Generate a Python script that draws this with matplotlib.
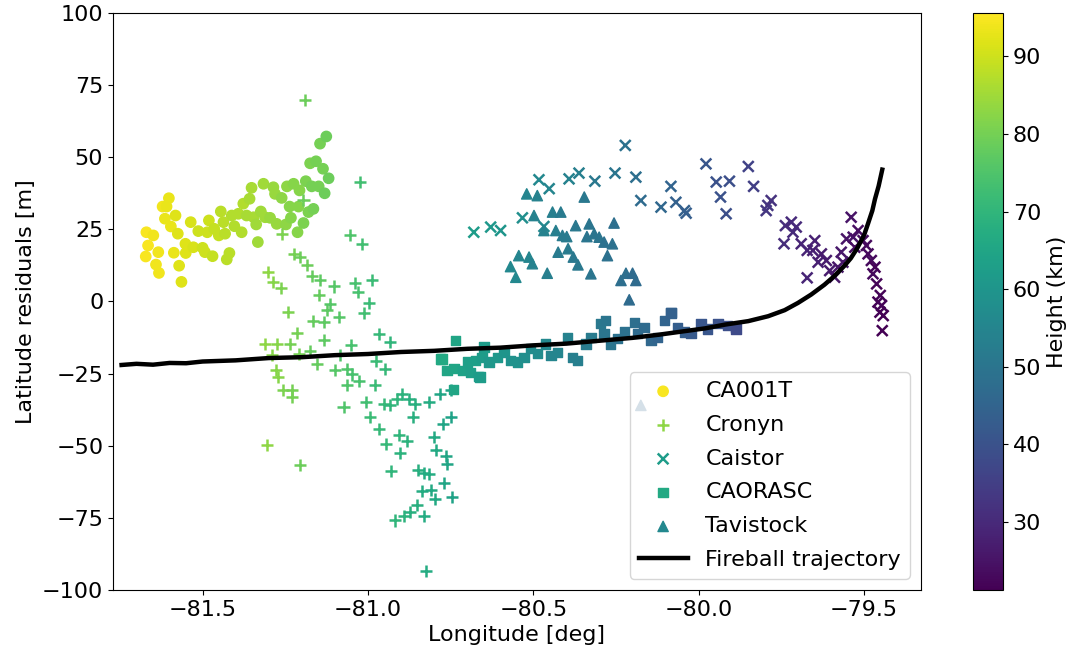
import numpy as np
import matplotlib.pyplot as plt

# CA001T (circles)
ca001t_lon = [-81.670, -81.649, -81.665, -81.672, -81.641, -81.632, -81.634, -81.621, -81.609, -81.602,
              -81.614, -81.596, -81.582, -81.575, -81.587, -81.571, -81.564, -81.552, -81.536, -81.551,
              -81.528, -81.513, -81.500, -81.493, -81.481, -81.486, -81.470, -81.465, -81.451, -81.445,
              -81.437, -81.432, -81.427, -81.419, -81.412, -81.404, -81.392, -81.382, -81.377, -81.358,
              -81.352, -81.367, -81.346, -81.338, -81.333, -81.324, -81.316, -81.311, -81.296, -81.286,
              -81.281, -81.276, -81.261, -81.248, -81.245, -81.237, -81.233, -81.225, -81.213, -81.210,
              -81.207, -81.195, -81.188, -81.180, -81.175, -81.157, -81.170, -81.165, -81.149, -81.136,
              -81.145, -81.126, -81.119, -81.131]
ca001t_lat = [24.0, 22.9, 19.4, 15.6, 12.8, 9.9, 17.1, 32.9, 32.9, 35.8,
              28.7, 26.0, 29.8, 23.5, 16.9, 12.4, 6.8, 20.0, 27.5, 16.8,
              18.8, 24.4, 18.6, 17.1, 28.1, 24.0, 15.7, 25.2, 22.9, 31.2,
              27.5, 23.5, 14.6, 16.8, 29.8, 26.1, 30.4, 24.0, 33.9, 35.6,
              39.4, 29.8, 29.2, 26.7, 20.6, 31.2, 40.8, 29.2, 29.0, 39.6,
              37.3, 26.9, 35.9, 26.7, 39.9, 32.9, 29.0, 40.8, 24.0, 32.9,
              38.5, 27.2, 41.7, 31.0, 47.9, 48.6, 39.9, 32.1, 39.9, 46.0,
              54.7, 57.2, 42.7, 37.5]
ca001t_h = [95, 94, 95, 95, 94, 94, 94, 94, 93, 93,
            93, 93, 92, 92, 93, 92, 92, 92, 91, 92,
            91, 90, 90, 90, 90, 90, 89, 89, 89, 88,
            88, 88, 88, 88, 87, 87, 87, 87, 87, 86,
            86, 86, 86, 85, 85, 85, 85, 85, 84, 84,
            84, 84, 83, 83, 83, 82, 82, 82, 82, 82,
            82, 81, 81, 81, 81, 80, 80, 80, 80, 80,
            80, 79, 79, 79]

# Cronyn (plus)
cronyn_lon = [-81.311, -81.276, -81.237, -81.301, -81.286, -81.264, -81.304, -81.291, -81.278, -81.271,
              -81.261, -81.256, -81.242, -81.230, -81.230, -81.225, -81.215, -81.210, -81.207, -81.205,
              -81.195, -81.190, -81.185, -81.175, -81.170, -81.167, -81.155, -81.149, -81.145, -81.134,
              -81.133, -81.124, -81.114, -81.104, -81.099, -81.089, -81.084, -81.074, -81.064, -81.064,
              -81.054, -81.051, -81.048, -81.038, -81.031, -81.028, -81.023, -81.018, -81.013, -81.005,
              -80.998, -80.993, -80.988, -80.980, -80.975, -80.968, -80.968, -80.953, -80.948, -80.945,
              -80.932, -80.932, -80.929, -80.917, -80.912, -80.907, -80.902, -80.897, -80.892, -80.882,
              -80.877, -80.874, -80.864, -80.857, -80.852, -80.849, -80.836, -80.831, -80.831, -80.826,
              -80.816, -80.816, -80.809, -80.799, -80.796, -80.793, -80.781, -80.773, -80.771, -80.765,
              -80.761, -80.750, -80.750, -80.745]
cronyn_lat = [-14.7, -14.7, -14.7, 10.2, 6.9, 4.7, -49.9, -18.7, -23.9, -26.2,
              23.5, -30.8, -3.6, -30.8, -33.2, 16.5, -11.0, -18.1, -56.5, 15.4,
              35.2, 70.0, 12.5, -17.2, 8.7, -6.6, -21.6, 2.4, 7.3, -7.2,
              -13.2, -3.1, -1.0, 5.2, -23.7, -5.4, -18.7, -36.6, -23.3, -29.1,
              22.9, -15.0, -25.3, 6.4, 3.2, -27.4, 41.4, 20.0, -4.0, -34.9,
              -0.6, -39.9, 7.3, -29.1, -20.7, -11.2, -44.1, -35.5, -23.3, -49.3,
              -13.9, -36.0, -58.6, -75.9, -33.7, -46.4, -52.6, -32.0, -74.2, -48.2,
              -33.7, -73.0, -40.1, -35.5, -70.7, -58.3, -65.8, -59.5, -74.5, -93.5,
              -34.9, -59.7, -65.5, -46.8, -68.4, -51.6, -32.0, -42.6, -63.0, -53.7,
              -56.3, -30.8, -40.1, -67.6]
cronyn_h = [83, 82, 80, 83, 82, 81, 83, 82, 82, 82,
            81, 81, 81, 80, 80, 80, 80, 80, 79, 79,
            79, 79, 79, 78, 78, 78, 78, 78, 77, 77,
            77, 77, 76, 76, 76, 76, 75, 75, 75, 75,
            75, 74, 74, 74, 74, 74, 73, 73, 73, 73,
            72, 72, 72, 72, 72, 71, 71, 71, 71, 71,
            70, 70, 70, 70, 70, 70, 69, 69, 69, 69,
            68, 68, 68, 68, 68, 68, 67, 67, 67, 67,
            67, 67, 66, 66, 66, 66, 65, 65, 65, 65,
            65, 64, 64, 64]

# Caistor (x)
caistor_lon = [-80.680, -80.629, -80.599, -80.533, -80.483, -80.452, -80.468, -80.392, -80.362, -80.314,
               -80.253, -80.222, -80.190, -80.175, -80.114, -80.084, -80.069, -80.043, -80.038, -79.978,
               -79.947, -79.934, -79.917, -79.907, -79.850, -79.834, -79.796, -79.791, -79.781, -79.742,
               -79.738, -79.720, -79.715, -79.705, -79.690, -79.672, -79.672, -79.655, -79.649, -79.639,
               -79.629, -79.614, -79.604, -79.589, -79.579, -79.569, -79.564, -79.553, -79.539, -79.533,
               -79.528, -79.518, -79.503, -79.493, -79.488, -79.478, -79.473, -79.467, -79.462, -79.458,
               -79.452, -79.451, -79.447, -79.445, -79.442]
caistor_lat = [24.0, 25.8, 24.6, 29.0, 42.2, 39.1, 26.0, 42.5, 44.5, 41.7,
               44.5, 54.1, 43.1, 35.0, 32.7, 39.9, 34.4, 31.5, 30.6, 47.7,
               41.4, 36.2, 30.4, 41.7, 46.8, 39.9, 31.5, 33.3, 35.0, 20.0,
               26.3, 27.5, 24.0, 25.8, 20.0, 17.7, 8.2, 17.7, 21.1, 13.6,
               16.5, 14.2, 10.7, 8.4, 11.9, 17.1, 13.6, 21.7, 29.2, 22.3,
               18.8, 24.6, 21.1, 19.4, 16.5, 14.2, 9.6, 11.9, 6.1, -0.2,
               -3.7, 2.1, -1.4, -10.1, -4.9]
caistor_h = [62, 61, 60, 58, 56, 55, 56, 54, 53, 51,
             50, 49, 48, 47, 46, 45, 44, 44, 43, 41,
             40, 40, 39, 39, 36, 35, 33, 33, 32, 31,
             31, 30, 30, 30, 29, 29, 29, 28, 28, 28,
             27, 27, 27, 26, 26, 26, 26, 25, 25, 25,
             24, 24, 24, 23, 23, 23, 23, 22, 22, 22,
             22, 22, 22, 21, 21]

# CAORASC (squares)
caorasc_lon = [-80.781, -80.776, -80.761, -80.742, -80.740, -80.735, -80.715, -80.700, -80.690, -80.675,
               -80.665, -80.661, -80.655, -80.649, -80.634, -80.609, -80.589, -80.569, -80.548, -80.528,
               -80.508, -80.488, -80.463, -80.447, -80.427, -80.397, -80.382, -80.367, -80.341, -80.326,
               -80.296, -80.286, -80.281, -80.266, -80.245, -80.225, -80.195, -80.185, -80.165, -80.144,
               -80.124, -80.104, -80.084, -80.084, -80.064, -80.043, -80.023, -79.993, -79.973, -79.942,
               -79.912, -79.888, -79.887]
caorasc_lat = [-19.9, -19.9, -23.9, -30.6, -23.3, -13.5, -23.9, -21.0, -24.5, -20.5,
               -26.0, -26.2, -19.3, -15.8, -21.0, -19.3, -17.6, -20.5, -21.0, -19.3,
               -16.4, -18.1, -14.7, -18.7, -17.6, -12.4, -19.3, -20.5, -14.7, -12.4,
               -7.7, -11.2, -6.6, -14.7, -12.9, -10.6, -7.2, -11.2, -8.9, -13.5,
               -12.4, -6.6, -3.7, -4.0, -8.9, -10.6, -11.2, -7.7, -9.5, -7.7,
               -8.3, -8.9, -9.5]
caorasc_h = [66, 66, 65, 65, 65, 65, 64, 63, 63, 63,
             62, 62, 62, 62, 61, 61, 60, 59, 59, 58,
             57, 57, 56, 55, 55, 54, 53, 53, 52, 52,
             51, 50, 50, 50, 49, 49, 48, 47, 47, 46,
             45, 45, 44, 44, 43, 43, 42, 41, 41, 40,
             39, 38, 38]

# Tavistock (triangles)
tavistock_lon = [-80.569, -80.553, -80.544, -80.520, -80.513, -80.503, -80.498, -80.488, -80.468, -80.458,
                 -80.442, -80.432, -80.425, -80.417, -80.412, -80.399, -80.395, -80.379, -80.372, -80.365,
                 -80.346, -80.338, -80.331, -80.326, -80.316, -80.301, -80.286, -80.276, -80.261, -80.256,
                 -80.235, -80.220, -80.210, -80.200, -80.190, -80.175]
tavistock_lat = [12.1, 8.4, 15.9, 37.3, 15.4, 13.1, 29.8, 36.7, 24.6, 9.8,
                 31.0, 24.6, 17.1, 31.0, 22.9, 22.5, 18.3, 15.4, 26.3, 12.7,
                 36.2, 22.5, 26.9, 9.6, 23.5, 22.3, 20.6, 15.9, 20.0, 27.2,
                 7.3, 9.8, 0.6, 9.8, 7.3, -36.0]
tavistock_h = [56, 56, 55, 55, 55, 54, 54, 54, 54, 53,
               53, 53, 52, 52, 52, 52, 52, 51, 51, 51,
               51, 50, 50, 50, 50, 50, 49, 49, 49, 48,
               48, 48, 47, 47, 47, 46]

# Fireball trajectory
traj_lon = [-81.745, -81.70, -81.65, -81.60, -81.55, -81.50, -81.40, -81.30, -81.20, -81.10,
            -81.00, -80.90, -80.80, -80.70, -80.60, -80.50, -80.40, -80.30, -80.20, -80.12,
            -80.05, -79.98, -79.92, -79.85, -79.79, -79.74, -79.70, -79.66, -79.62, -79.59,
            -79.56, -79.54, -79.52, -79.50, -79.488, -79.475, -79.467, -79.456, -79.445]
traj_lat = [-22.0, -21.6, -21.9, -21.3, -21.4, -20.8, -20.4, -19.6, -19.3, -18.6,
            -18.2, -17.5, -17.1, -16.4, -16.0, -15.2, -14.6, -13.6, -12.6, -11.5,
            -10.4, -9.3, -8.0, -6.8, -5.1, -3.0, -0.5, 2.4, 5.8, 8.8,
            12.3, 15.0, 18.6, 23.0, 27.0, 31.5, 35.5, 40.0, 45.7]

hmin, hmax = 21.2, 95.6

fig = plt.figure(figsize=(10.7, 6.55), dpi=100)
ax = fig.add_axes([0.1056, 0.0992, 0.7551, 0.8810])
cax = fig.add_axes([0.9093, 0.0992, 0.0280, 0.8810])

fs = 16
kw = dict(cmap="viridis", vmin=hmin, vmax=hmax)
sc = ax.scatter(ca001t_lon, ca001t_lat, c=ca001t_h, marker="o", s=55, label="CA001T", **kw)
ax.scatter(cronyn_lon, cronyn_lat, c=cronyn_h, marker="+", s=75, linewidths=1.8, label="Cronyn", **kw)
ax.scatter(caistor_lon, caistor_lat, c=caistor_h, marker="x", s=60, linewidths=1.8, label="Caistor", **kw)
ax.scatter(caorasc_lon, caorasc_lat, c=caorasc_h, marker="s", s=45, label="CAORASC", **kw)
ax.scatter(tavistock_lon, tavistock_lat, c=tavistock_h, marker="^", s=55, label="Tavistock", **kw)
ax.plot(traj_lon, traj_lat, color="black", lw=3.2, label="Fireball trajectory", zorder=5)

ax.set_xlim(-81.771, -79.328)
ax.set_ylim(-100, 100)
ax.set_xticks([-81.5, -81.0, -80.5, -80.0, -79.5])
ax.set_xlabel("Longitude [deg]", fontsize=fs)
ax.set_ylabel("Latitude residuals [m]", fontsize=fs)
ax.tick_params(labelsize=fs)
ax.legend(loc="lower right", fontsize=fs, handlelength=2.2, labelspacing=0.62)

cb = fig.colorbar(sc, cax=cax)
cb.set_label("Height (km)", fontsize=fs)
cb.ax.tick_params(labelsize=fs)

fig.savefig("out.png", dpi=100)
